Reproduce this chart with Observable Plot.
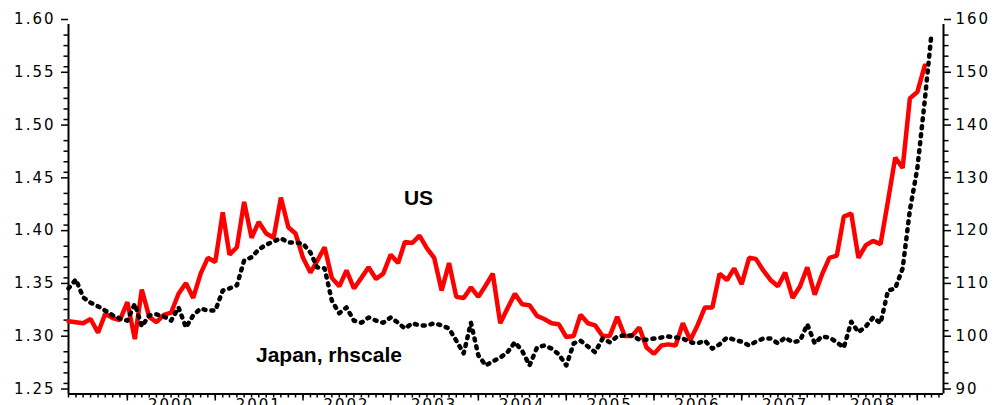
<!DOCTYPE html>
<html><head><meta charset="utf-8">
<script src="https://cdn.jsdelivr.net/npm/d3@7"></script>
<script src="https://cdn.jsdelivr.net/npm/@observablehq/plot@0.6"></script>
<style>
body{margin:0;background:#fff}
#chart svg{display:block;overflow:hidden}
#chart svg g[aria-label="text"] text{letter-spacing:0}
</style>
</head><body><div id="chart"></div>
<script>
// monthly series, first month May 1999
const firstMonth = [1999, 4];
const usValues = [
1.319,1.318,1.317,1.321,1.308,1.326,1.322,1.320,1.337,1.302,
1.349,1.323,1.318,1.325,1.327,1.345,1.355,1.341,1.364,1.379,
1.375,1.422,1.382,1.389,1.432,1.398,1.413,1.402,1.398,1.436,
1.408,1.402,1.379,1.365,1.376,1.389,1.360,1.352,1.367,1.350,
1.360,1.370,1.359,1.364,1.382,1.374,1.394,1.393,1.400,1.388,
1.379,1.348,1.374,1.342,1.341,1.351,1.342,1.353,1.364,1.317,
1.331,1.345,1.335,1.334,1.324,1.321,1.317,1.316,1.304,1.305,
1.325,1.317,1.315,1.305,1.305,1.323,1.305,1.305,1.313,1.294,
1.288,1.296,1.297,1.296,1.317,1.301,1.315,1.332,1.332,1.364,
1.358,1.369,1.354,1.379,1.378,1.367,1.358,1.352,1.365,1.341,
1.352,1.370,1.344,1.363,1.379,1.381,1.418,1.421,1.379,1.391,
1.395,1.392,1.433,1.474,1.464,1.530,1.536,1.561];
const japanValues = [
110.0,111.7,108.3,107.3,106.6,105.8,104.9,104.3,103.9,107.1,
102.8,104.9,105.1,104.7,103.9,106.4,102.6,104.9,106.2,105.8,
105.8,109.6,110.0,110.6,115.3,115.9,117.4,118.3,118.9,119.5,
118.7,118.7,118.5,116.8,114.0,113.8,107.7,105.3,106.4,103.9,
103.5,104.5,103.9,103.5,104.5,103.5,102.4,103.4,103.0,103.0,
103.4,103.0,102.4,100.1,97.7,103.5,97.3,95.4,96.2,96.9,
97.9,99.8,98.2,95.4,98.8,99.2,98.6,97.5,95.4,99.6,
100.1,99.0,97.9,100.5,99.8,100.9,101.1,101.1,100.3,100.3,
100.5,100.7,100.9,100.7,100.5,99.8,99.6,100.1,98.6,99.4,
100.7,100.3,99.9,99.2,99.9,100.5,100.5,99.6,100.7,99.8,
100.1,103.2,99.6,100.9,100.7,99.8,98.8,103.7,101.7,102.8,
104.5,103.4,109.6,110.0,113.8,124.8,132.7,145.6,158.3];
const leftTicks = [1.25,1.30,1.35,1.40,1.45,1.50,1.55,1.60];
const rightTicks = [90,100,110,120,130,140,150,160];
const yearLabels = [2000,2001,2002,2003,2004,2005,2006,2007,2008];
const annotations = [
  {text:"US", date:"2003-04-27", value:1.435},
  {text:"Japan, rhscale", date:"2002-04-19", value:1.2865}
];

const start = new Date(Date.UTC(firstMonth[0], firstMonth[1], 1));
const xDomain = [start, new Date(Date.UTC(2009, 3, 20))];
const yDomain = [1.25, 1.60];
const r0 = rightTicks[0], r1 = rightTicks[rightTicks.length-1];
const toLeft = v => yDomain[0] + (v - r0) * (yDomain[1]-yDomain[0]) / (r1 - r0);
const toRight = d => String(Math.round(r0 + (d - yDomain[0]) * (r1 - r0) / (yDomain[1]-yDomain[0])));

const us = usValues.map((v,i) => ({date: d3.utcMonth.offset(start, i), value: v}));
const japan = japanValues.map((v,i) => ({date: d3.utcMonth.offset(start, i), value: toLeft(v)}));
const ann = annotations.map(a => ({...a, date: new Date(a.date + "T00:00Z")}));

const minorY = d3.range(125, 161).map(v => v/100).filter(v => Math.round(v*100) % 5 !== 0);
const monthTicks = d3.utcMonth.range(xDomain[0], xDomain[1]);
const yearTicks = d3.utcYear.range(xDomain[0], xDomain[1]);
const labelTicks = yearLabels.map(y => new Date(Date.UTC(y, 6, 1)));

const chart = Plot.plot({
  width: 1006, height: 405,
  marginLeft: 68, marginRight: 63, marginTop: 24, marginBottom: 11.5,
  style: {fontFamily: "'DejaVu Sans', sans-serif", fontSize: "15px", letterSpacing: "2px", color: "#000", background: "#fff"},
  x: {type: "utc", domain: xDomain},
  y: {domain: yDomain},
  marks: [
    Plot.axisY({ticks: minorY, tickSize: 4.5, tickFormat: () => "", strokeWidth: 1.5, label: null}),
    Plot.axisY({ticks: leftTicks, tickSize: 7, tickPadding: 6, dy: -5, tickFormat: d3.format(".2f"), strokeWidth: 1.5, label: null}),
    Plot.axisY({anchor: "right", ticks: minorY, tickSize: 4.5, tickFormat: () => "", strokeWidth: 1.5, label: null}),
    Plot.axisY({anchor: "right", ticks: leftTicks, tickSize: 7, tickPadding: 5, dy: -5, tickFormat: toRight, strokeWidth: 1.5, label: null}),
    Plot.axisX({ticks: monthTicks, tickSize: 4, tickFormat: () => "", strokeWidth: 1.5, label: null}),
    Plot.axisX({ticks: yearTicks, tickSize: 7, tickFormat: () => "", strokeWidth: 1.5, label: null}),
    Plot.axisX({ticks: labelTicks, tickSize: 0, tickPadding: 5, tickFormat: d => String(d.getUTCFullYear()), label: null}),
    Plot.ruleX(xDomain, {strokeWidth: 2}),
    Plot.ruleY([yDomain[0]], {strokeWidth: 2}),
    Plot.line(us, {x: "date", y: "value", stroke: "#ff0000", strokeWidth: 4.5, strokeLinejoin: "miter"}),
    Plot.line(japan, {x: "date", y: "value", stroke: "#000", strokeWidth: 4.5, strokeDasharray: "2,6", strokeLinecap: "round"}),
    Plot.text(ann, {x: "date", y: "value", text: "text", fontFamily: "'Liberation Sans', Arial, sans-serif", fontSize: 21, fontWeight: "bold", fill: "#000", textAnchor: "middle"})
  ]
});
document.getElementById("chart").appendChild(chart);
</script>
</body></html>
